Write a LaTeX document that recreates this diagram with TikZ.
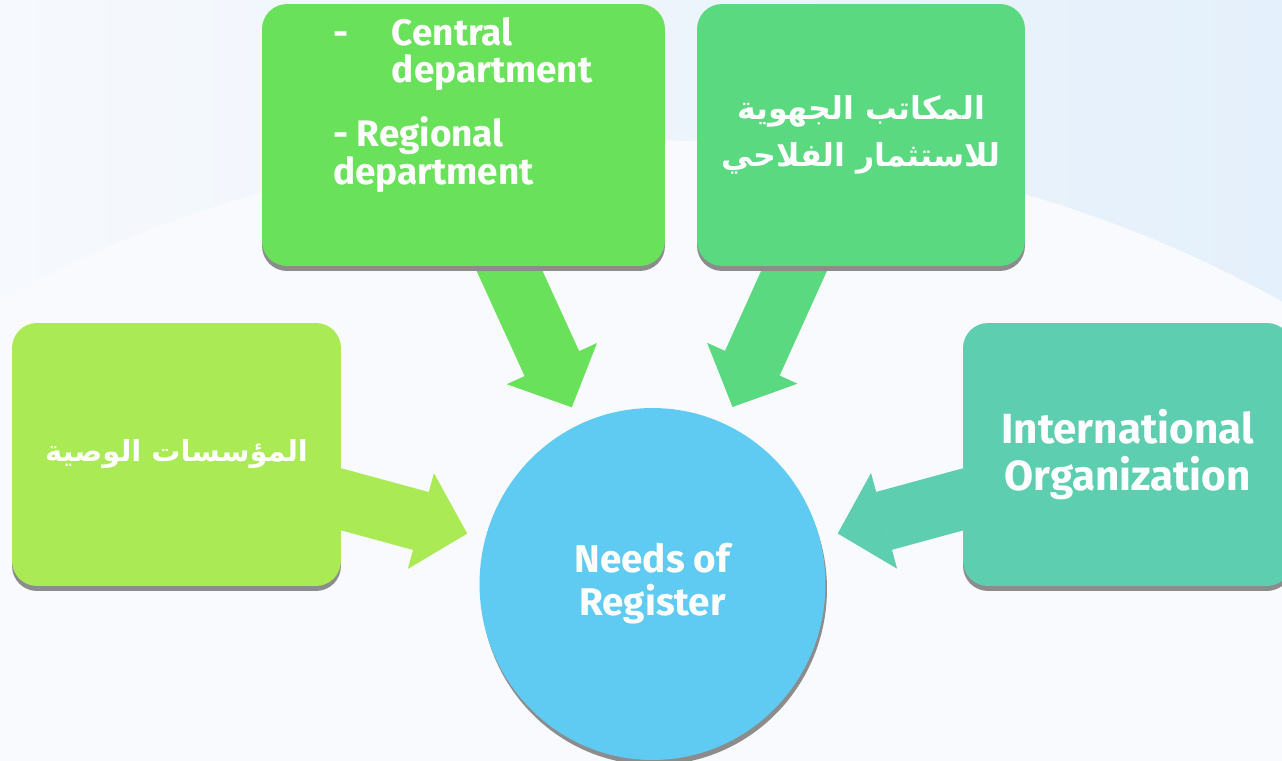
\documentclass[tikz,border=0pt]{standalone}
\usepackage{fontspec}
\setmainfont{Fira Sans}
\newfontfamily\arabicfont[Script=Arabic]{DejaVu Sans}
\TeXXeTstate=1
\usepackage{xcolor}
\usepackage{tikz}
\usetikzlibrary{arrows.meta, positioning, shapes.geometric, shadows, backgrounds, calc}

\definecolor{instgreen}{HTML}{A9EA55}
\definecolor{deptgreen}{HTML}{6AE15A}
\definecolor{officegreen}{HTML}{5AD981}
\definecolor{intlteal}{HTML}{5ECEB0}
\definecolor{needsblue}{HTML}{5FCBF2}
\definecolor{bgpale}{HTML}{F6F9FD}
\definecolor{bgblue}{HTML}{E4F0FB}
\definecolor{bginner}{HTML}{F8FAFD}

\begin{document}
\begin{tikzpicture}[x=0.02cm, y=-0.02cm,
    every node/.style={font=\bfseries, text=white, inner sep=0pt},
    source/.style={rectangle, rounded corners=5mm, minimum width=65.8mm, minimum height=52.6mm, align=center,
        drop shadow={shadow xshift=0mm, shadow yshift=-1mm, fill=black!45, opacity=1}},
    hub/.style={ellipse, minimum width=69.2mm, minimum height=70.4mm, align=center, fill=needsblue,
        drop shadow={shadow xshift=0.3mm, shadow yshift=-1mm, fill=black!45, opacity=1}},
    flow/.style={line width=12mm, -{Triangle[length=9.6mm, width=19.8mm, line width=0.5pt]}, shorten >=3.7mm},
    arfont/.style={font=\arabicfont\bfseries\fontsize{18pt}{26.7pt}\selectfont},
    enfont/.style={font=\bfseries\fontsize{21pt}{21.6pt}\selectfont},
]
\useasboundingbox (0,0) rectangle (1282,761);

% Nodes
\node[hub, font=\bfseries\fontsize{22pt}{24.5pt}\selectfont] (needs) at (652.5,584) {Needs of\\Register};

\node[source, fill=instgreen, font=\arabicfont\bfseries\fontsize{16.5pt}{20pt}\selectfont] (inst) at (176.5,454.5)
    {\beginR المؤسسات الوصية\endR};
\node[source, fill=deptgreen, minimum width=80.6mm, minimum height=52.4mm] (dept) at (463.5,135) {};
\node[source, fill=officegreen, minimum width=65.6mm, minimum height=52.4mm, arfont] (offices) at (861,135)
    {\beginR المكاتب الجهوية\endR\\\beginR للاستثمار الفلاحي\endR};
\node[source, fill=intlteal, font=\bfseries\fontsize{24pt}{26.7pt}\selectfont] (intl) at (1127.5,454.5) {International\\Organization};

% Label of the department box
\node[enfont, align=left, anchor=north west] (deptlabel) at ($(dept.north west)+(71,13)$)
    {\makebox[33.5pt][l]{-}Central\\\hspace*{33.5pt}department\\[13.7pt]- Regional\\department};

% Background and arrows
\begin{pgfonlayer}{background}
\shade[left color=bgpale, right color=bgblue] (0,0) rectangle (1282,761);
\fill[bginner] (640,1000) ellipse [x radius=1100, y radius=860];
\draw[flow, instgreen] (inst.center) -- (needs);
\draw[flow, deptgreen] ([xshift=-3.2mm]dept.center) -- (needs);
\draw[flow, officegreen] ([xshift=-1.1mm]offices.center) -- (needs);
\draw[flow, intlteal] (intl.center) -- (needs);
\end{pgfonlayer}

\end{tikzpicture}
\end{document}
